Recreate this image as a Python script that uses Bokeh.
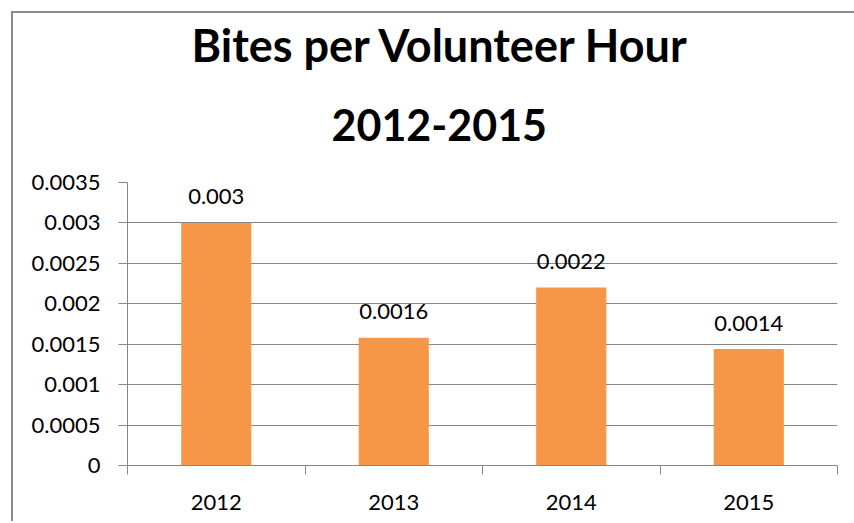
from bokeh.plotting import figure
from bokeh.models import (Range1d, LinearAxis, FixedTicker, Title, ColumnDataSource, Spacer)
from bokeh.layouts import column, row
from bokeh.embed import file_html
from bokeh.resources import INLINE
from bokeh.core.properties import value

# ---- data ----
years = ["2012", "2013", "2014", "2015"]
bites_per_hour = [0.003, 0.00158, 0.0022, 0.00144]
value_labels = [f"{v:.2g}" for v in bites_per_hour]
y_ticks = [0, 0.0005, 0.001, 0.0015, 0.002, 0.0025, 0.003, 0.0035]
y_tick_labels = ["0", "0.0005", "0.001", "0.0015", "0.002", "0.0025", "0.003", "0.0035"]
title_line1 = "Bites per Volunteer Hour"
title_line2 = "2012-2015"

# category slots: centre of each category and the boundaries between them
centers = [i + 0.5 for i in range(len(years))]
category_edges = list(range(len(years) + 1))

FONT = "Lato"
GRID = "#868686"
BAR = "#F79646"
EDGE = "#8c8c8c"

source = ColumnDataSource(dict(xc=centers, val=bites_per_hour, label=value_labels))

p = figure(x_range=Range1d(0, len(years)), y_range=Range1d(0, 0.0035),
           width=841, height=508, output_backend="svg", toolbar_location=None,
           x_axis_location=None, min_border_left=114, min_border_right=17,
           min_border_top=169, min_border_bottom=56)
p.outline_line_color = None
p.background_fill_color = "white"
p.border_fill_color = "white"

p.vbar(x="xc", top="val", width=0.395, source=source, color=BAR, line_color=None)
p.text(x="xc", y="val", text="label", source=source, text_align="center",
       text_baseline="alphabetic", y_offset=-26, text_font=value(FONT),
       text_font_size="22px", text_color="black")

# y axis
yax = p.yaxis[0]
yax.ticker = FixedTicker(ticks=y_ticks)
yax.major_label_overrides = dict(zip(y_ticks, y_tick_labels))
yax.major_tick_out = 9
yax.major_tick_in = 0
yax.minor_tick_line_color = None
yax.axis_line_color = GRID
yax.major_tick_line_color = GRID
yax.major_label_standoff = 18
yax.major_label_text_font = FONT
yax.major_label_text_font_size = "22px"
yax.major_label_text_color = "black"

p.ygrid.ticker = FixedTicker(ticks=y_ticks)
p.ygrid.grid_line_color = GRID
p.xgrid.grid_line_color = None

# x axes: boundary ticks + category labels
edge_axis = LinearAxis(ticker=FixedTicker(ticks=category_edges),
                       major_tick_out=9, major_tick_in=0, minor_tick_line_color=None,
                       axis_line_color=GRID, major_tick_line_color=GRID,
                       major_label_text_font_size="1px", major_label_text_alpha=0,
                       major_label_standoff=0)
p.add_layout(edge_axis, "below")
cat_axis = LinearAxis(ticker=FixedTicker(ticks=centers),
                      major_label_overrides=dict(zip(centers, years)),
                      axis_line_color=None, major_tick_line_color=None,
                      minor_tick_line_color=None,
                      major_tick_out=0, major_tick_in=0, major_label_standoff=20,
                      major_label_text_font=FONT, major_label_text_font_size="22px",
                      major_label_text_color="black")
p.add_layout(cat_axis, "below")

# title (two lines)
t2 = Title(text=title_line2, align="left", offset=204, text_font=FONT,
           text_font_size="43px", text_font_style="bold", text_color="black", standoff=83)
t1 = Title(text=title_line1, align="left", offset=64, text_font=FONT,
           text_font_size="45px", text_font_style="bold", text_color="black", standoff=-13)
p.add_layout(t2, "above")
p.add_layout(t1, "above")

# chart-area border (top and left edges; the rest is cropped in the reference)
top_line = Spacer(width=843, height=2, styles={"background-color": EDGE})
left_line = Spacer(width=2, height=508, styles={"background-color": EDGE})
layout = column(top_line, row(left_line, p), margin=(11, 0, 0, 11))

open("out.html", "w").write(file_html(layout, INLINE))
